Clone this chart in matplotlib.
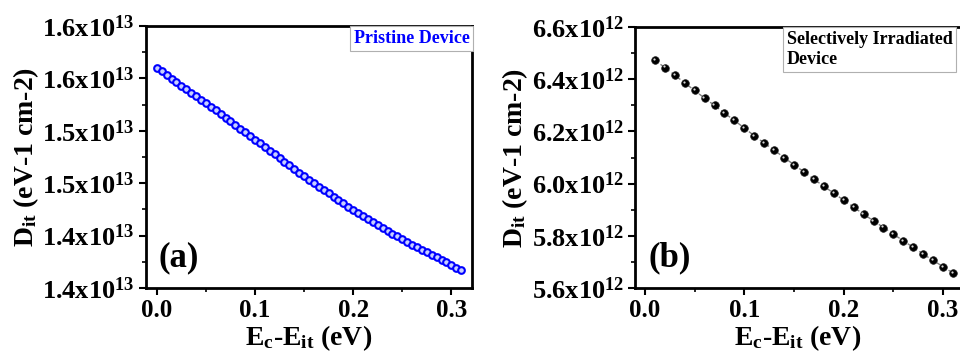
import matplotlib
matplotlib.use('Agg')
import matplotlib.pyplot as plt
from matplotlib.ticker import AutoMinorLocator
from matplotlib.transforms import offset_copy

plt.rcParams['font.family'] = ['Liberation Serif', 'DejaVu Serif']
plt.rcParams['font.weight'] = 'bold'
plt.rcParams['mathtext.fontset'] = 'custom'
plt.rcParams['mathtext.rm'] = 'Liberation Serif:bold'
plt.rcParams['mathtext.it'] = 'Liberation Serif:bold'
plt.rcParams['mathtext.bf'] = 'Liberation Serif:bold'

# panel (a): pristine device, Dit in units of 1e13
ea = [0.000, 0.005, 0.010, 0.015, 0.020, 0.025, 0.030, 0.035, 0.040, 0.045,
      0.050, 0.055, 0.060, 0.065, 0.070, 0.075, 0.080, 0.085, 0.090, 0.095,
      0.100, 0.105, 0.110, 0.115, 0.120, 0.125, 0.130, 0.135, 0.140, 0.145,
      0.150, 0.155, 0.160, 0.165, 0.170, 0.175, 0.180, 0.185, 0.190, 0.195,
      0.200, 0.205, 0.210, 0.215, 0.220, 0.225, 0.230, 0.235, 0.240, 0.245,
      0.250, 0.255, 0.260, 0.265, 0.270, 0.275, 0.280, 0.285, 0.290, 0.295,
      0.300, 0.305, 0.310]
dit_a = [1.5600, 1.5566, 1.5533, 1.5499, 1.5466, 1.5432, 1.5399, 1.5365, 1.5332, 1.5298,
         1.5265, 1.5230, 1.5195, 1.5160, 1.5125, 1.5090, 1.5055, 1.5020, 1.4985, 1.4950,
         1.4915, 1.4880, 1.4845, 1.4810, 1.4775, 1.4740, 1.4705, 1.4671, 1.4636, 1.4600,
         1.4565, 1.4532, 1.4499, 1.4467, 1.4435, 1.4403, 1.4371, 1.4340, 1.4308, 1.4276,
         1.4245, 1.4216, 1.4187, 1.4159, 1.4131, 1.4104, 1.4076, 1.4048, 1.4020, 1.3993,
         1.3965, 1.3940, 1.3915, 1.3890, 1.3866, 1.3842, 1.3818, 1.3793, 1.3769, 1.3745,
         1.3720, 1.3694, 1.3668]
yticks_a = [1.35, 1.40, 1.45, 1.50, 1.55, 1.60]
ylabels_a = ['1.4', '1.4', '1.5', '1.5', '1.6', '1.6']

# panel (b): selectively irradiated device, Dit in units of 1e12
eb = [0.01, 0.02, 0.03, 0.04, 0.05, 0.06, 0.07, 0.08, 0.09, 0.10,
      0.11, 0.12, 0.13, 0.14, 0.15, 0.16, 0.17, 0.18, 0.19, 0.20,
      0.21, 0.22, 0.23, 0.24, 0.25, 0.26, 0.27, 0.28, 0.29, 0.30, 0.31]
dit_b = [6.4727, 6.4447, 6.4154, 6.3860, 6.3568, 6.3274, 6.2994, 6.2701, 6.2421, 6.2128,
         6.1834, 6.1554, 6.1287, 6.0993, 6.0726, 6.0446, 6.0166, 5.9898, 5.9631, 5.9363,
         5.9096, 5.8828, 5.8573, 5.8318, 5.8063, 5.7808, 5.7554, 5.7299, 5.7057, 5.6815,
         5.6572]
yticks_b = [5.6, 5.8, 6.0, 6.2, 6.4, 6.6]
ylabels_b = ['5.6', '5.8', '6.0', '6.2', '6.4', '6.6']

xticks = [0.0, 0.1, 0.2, 0.3]
xlabels = ['0.0', '0.1', '0.2', '0.3']

fig = plt.figure(figsize=(9.6, 3.58), dpi=100)
ax1 = fig.add_axes([146 / 960, 70 / 358, 326 / 960, 262 / 358])
ax2 = fig.add_axes([635 / 960, 70 / 358, 326 / 960, 261 / 358])


def style_axes(ax, yticks, ylabels, exp):
    for s in ax.spines.values():
        s.set_linewidth(2.0)
    ax.set_xticks(xticks)
    ax.set_xticklabels(xlabels, fontsize=18, fontweight='bold')
    ax.set_yticks(yticks)
    ax.set_yticklabels([r'$%sx10^{%d}$' % (l, exp) for l in ylabels], fontsize=19)
    ax.xaxis.set_minor_locator(AutoMinorLocator(2))
    ax.yaxis.set_minor_locator(AutoMinorLocator(2))
    ax.tick_params(which='major', direction='out', length=5, width=1.5, pad=3,
                   top=False, right=False)
    ax.tick_params(which='minor', direction='out', length=3, width=1.2,
                   top=False, right=False)
    ax.set_xlabel(r'E$_\mathregular{c}$-E$_\mathregular{it}$ (eV)', fontsize=20,
                  fontweight='bold', labelpad=1)
    ax.set_ylabel(r'D$_\mathregular{it}$ (eV-1 cm-2)', fontsize=20,
                  fontweight='bold', labelpad=1)


# (a)
ax1.plot(ea, dit_a, color='blue', lw=1, marker='o', ms=4.8, mfc='#c8d0ff',
         mec='blue', mew=1.5)
ax1.set_xlim(-0.011, 0.321)
ax1.set_ylim(1.35, 1.60)
style_axes(ax1, yticks_a, ylabels_a, 13)
ax1.text(0.037, 0.115, '(a)', transform=ax1.transAxes, fontsize=25,
         fontweight='bold', va='center', ha='left')
ax1.text(0.992, 0.985, 'Pristine Device', transform=ax1.transAxes, fontsize=13,
         fontweight='bold', color='blue', ha='right', va='top',
         bbox=dict(boxstyle='square,pad=0.2', fc='white', ec='#b0b0b0', lw=0.8))

# (b)
ax2.plot(eb, dit_b, color='#808080', lw=1, ls=(0, (3, 2)), zorder=2)
ax2.plot(eb, dit_b, ls='none', marker='o', ms=5.5, mfc='black', mec='#202020',
         mew=0.5, zorder=3)
hl = offset_copy(ax2.transData, fig=fig, x=-0.8, y=0.8, units='points')
ax2.plot(eb, dit_b, ls='none', marker='o', ms=1.6, mfc='#d8d8d8', mec='none',
         transform=hl, zorder=4)
ax2.set_xlim(-0.010, 0.318)
ax2.set_ylim(5.6, 6.6)
style_axes(ax2, yticks_b, ylabels_b, 12)
ax2.text(0.04, 0.115, '(b)', transform=ax2.transAxes, fontsize=25,
         fontweight='bold', va='center', ha='left')
ax2.text(0.465, 0.985, 'Selectively Irradiated\nDevice', transform=ax2.transAxes,
         fontsize=13, fontweight='bold', color='black', ha='left', va='top',
         linespacing=1.25,
         bbox=dict(boxstyle='square,pad=0.2', fc='white', ec='#b0b0b0', lw=0.8))

fig.savefig('out.png', dpi=100)
